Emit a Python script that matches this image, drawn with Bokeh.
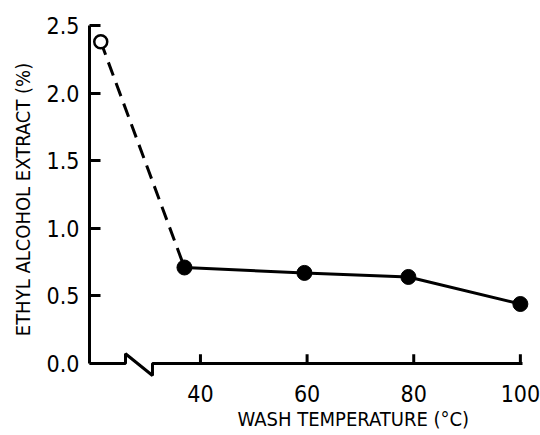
from bokeh.plotting import figure
from bokeh.models import Range1d, FixedTicker, Title, CustomJSTickFormatter
from bokeh.embed import file_html
from bokeh.resources import INLINE

# ---- data ----
control_temp = [21.3]          # unwashed control, drawn left of the axis break
control_extract = [2.38]
wash_temp = [37, 59.5, 79, 100]
wash_extract = [0.71, 0.67, 0.64, 0.44]
x_ticks = [40, 60, 80, 100]
y_ticks = [0.0, 0.5, 1.0, 1.5, 2.0, 2.5]

FONT = "Liberation Sans Narrow, DejaVu Sans Condensed, sans-serif"

p = figure(width=540, height=435, output_backend="svg", toolbar_location=None,
           x_range=Range1d(19.19, 101.9), y_range=Range1d(-0.111, 2.537),
           min_border_left=89, min_border_right=10, min_border_top=20, min_border_bottom=57)
p.outline_line_color = None
p.xgrid.visible = False
p.ygrid.visible = False
p.background_fill_color = "white"
p.border_fill_color = "white"

# y axis
ya = p.yaxis[0]
ya.ticker = FixedTicker(ticks=y_ticks)
ya.bounds = (0, 2.5)
ya.axis_line_width = 3
ya.major_tick_line_width = 3
ya.major_tick_in = 11
ya.major_tick_out = 0
ya.minor_tick_line_color = None
ya.major_label_standoff = 10
ya.major_label_text_font = FONT
ya.major_label_text_font_size = "23px"
ya.major_label_text_color = "black"
ya.axis_label = "ETHYL ALCOHOL EXTRACT (%)"
ya.axis_label_text_font = FONT
ya.axis_label_text_font_size = "20px"
ya.axis_label_text_font_style = "normal"
ya.axis_label_standoff = 9
ya.axis_label_text_color = "black"
ya.formatter = CustomJSTickFormatter(code="return tick.toFixed(1);")

# x axis: labels only, line/ticks drawn at y=0 with a break
xa = p.xaxis[0]
xa.ticker = FixedTicker(ticks=x_ticks)
xa.axis_line_color = None
xa.major_tick_line_color = None
xa.minor_tick_line_color = None
xa.major_label_standoff = 0
xa.major_label_text_font = FONT
xa.major_label_text_font_size = "23px"
xa.major_label_text_color = "black"

# x axis line with break symbol
brk_a, brk_b = 25.94, 31.0
p.line(x=[19.19, brk_a, brk_a, brk_b, brk_b, 100.4],
       y=[0, 0, 0.072, -0.089, 0, 0], line_width=3, line_color="black")
# inward x ticks
p.segment(x0=x_ticks, y0=[0] * len(x_ticks), x1=x_ticks, y1=[0.068] * len(x_ticks),
          line_width=3, line_color="black")

# dashed link from control to first washed point
p.line(x=[control_temp[0], wash_temp[0]], y=[control_extract[0], wash_extract[0]],
       line_width=3, line_color="black", line_dash="14 8")
p.line(x=wash_temp, y=wash_extract, line_width=3, line_color="black")
p.scatter(x=wash_temp, y=wash_extract, size=15, fill_color="black", line_color="black")
p.scatter(x=control_temp, y=control_extract, size=13, fill_color="white",
          line_color="black", line_width=2.5)

p.add_layout(Title(text="WASH TEMPERATURE (°C)", align="left", offset=148,
                   text_font=FONT, text_font_size="20px", text_font_style="normal",
                   text_color="black", standoff=0), "below")

open("out.html", "w").write(file_html(p, INLINE))
